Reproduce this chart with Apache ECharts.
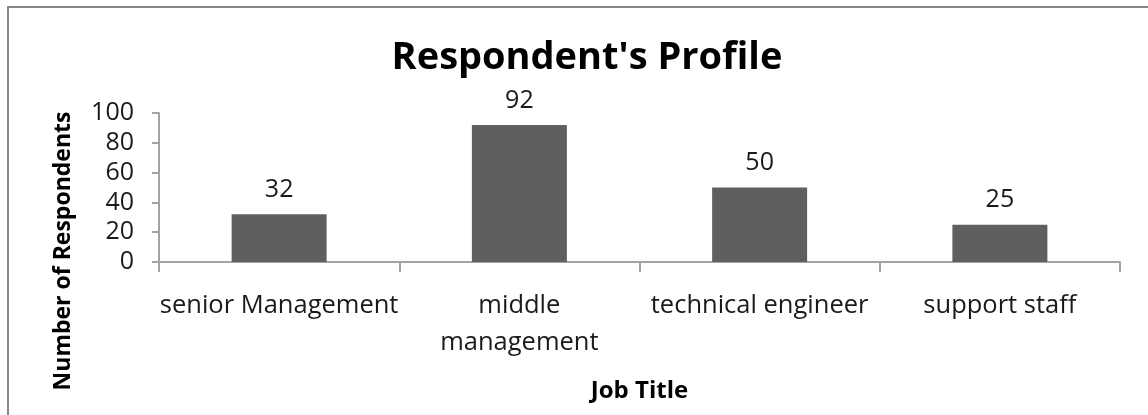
<!DOCTYPE html>
<html>
<head>
<meta charset="utf-8">
<script src="https://cdn.jsdelivr.net/npm/echarts@6/dist/echarts.min.js"></script>
<style>
  html, body { margin: 0; padding: 0; background: #ffffff; }
  #chart { width: 1148px; height: 415px; }
</style>
</head>
<body>
<div id="chart"></div>
<script>
// Job titles of the survey respondents and how many answered in each group
const jobTitles = ['senior Management', 'middle\nmanagement', 'technical engineer', 'support staff'];
const respondents = [32, 92, 50, 25];
const yTicks = { min: 0, max: 100, step: 20 };

const chartTitle = "Respondent's Profile";
const xAxisTitle = 'Job Title';
const yAxisTitle = 'Number of Respondents';

const FONT = '"Open Sans", "Noto Sans", sans-serif';
const chart = echarts.init(document.getElementById('chart'), null, { renderer: 'canvas' });

chart.setOption({
  backgroundColor: '#ffffff',
  animation: false,
  title: {
    text: chartTitle,
    left: 582,
    top: 34,
    textAlign: 'center',
    textStyle: { fontFamily: FONT, fontWeight: 'bold', fontSize: 38, color: '#000000' }
  },
  graphic: [
    {
      // outer chart frame
      type: 'rect',
      shape: { x: 8, y: 7, width: 1300, height: 600 },
      style: { fill: 'none', stroke: '#878787', lineWidth: 2 },
      silent: true
    },
    {
      type: 'text',
      x: 63,
      y: 251,
      rotation: Math.PI / 2,
      style: {
        text: yAxisTitle,
        fontFamily: FONT,
        fontWeight: 'bold',
        fontSize: 23,
        fill: '#000000',
        align: 'center',
        verticalAlign: 'middle'
      }
    }
  ],
  grid: { left: 159, right: 28, top: 113, bottom: 153 },
  xAxis: {
    type: 'category',
    data: jobTitles,
    name: xAxisTitle,
    nameLocation: 'middle',
    nameGap: 117,
    nameTextStyle: { fontFamily: FONT, fontWeight: 'bold', fontSize: 24, color: '#000000' },
    axisLine: { lineStyle: { color: '#a3a3a3', width: 2 } },
    axisTick: { show: true, length: 10, alignWithLabel: false, lineStyle: { color: '#a3a3a3', width: 2 } },
    axisLabel: {
      fontFamily: FONT,
      fontSize: 25.5,
      color: '#1a1a1a',
      margin: 25,
      lineHeight: 37,
      interval: 0
    }
  },
  yAxis: {
    type: 'value',
    min: yTicks.min,
    max: yTicks.max,
    interval: yTicks.step,
    splitLine: { show: false },
    axisLine: { show: true, lineStyle: { color: '#a3a3a3', width: 2 } },
    axisTick: { show: true, length: 7, lineStyle: { color: '#a3a3a3', width: 2 } },
    axisLabel: { fontFamily: FONT, fontSize: 25, color: '#1a1a1a', margin: 25 }
  },
  series: [
    {
      type: 'bar',
      data: respondents,
      barWidth: 95,
      itemStyle: { color: '#5f5f5f' },
      label: {
        show: true,
        position: 'top',
        distance: 12,
        fontFamily: FONT,
        fontSize: 25,
        color: '#1a1a1a'
      }
    }
  ]
});
</script>
</body>
</html>
